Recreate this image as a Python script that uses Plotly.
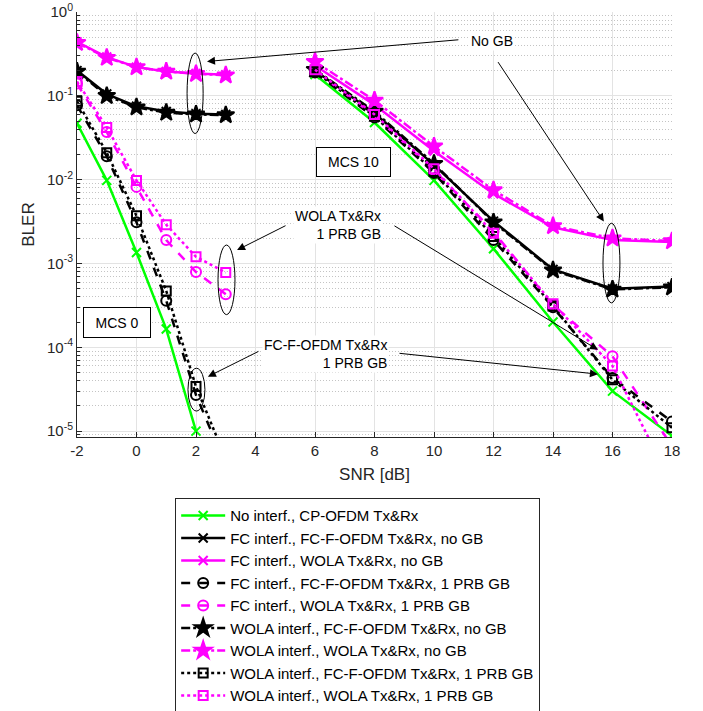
import plotly.graph_objects as go

# ---------------- data ----------------
snr_mcs0 = [-2, -1, 0, 1, 2, 3]
snr_mcs10 = [6, 8, 10, 12, 14, 16, 18]
x_ticks = [-2, 0, 2, 4, 6, 8, 10, 12, 14, 16, 18]
x_ticklabels = ["-2", "0", "2", "4", "6", "8", "10", "12", "14", "16", "18"]
y_ticks = [1e-5, 1e-4, 1e-3, 1e-2, 1e-1, 1]
y_ticklabels = ["10<sup>-5</sup>", "10<sup>-4</sup>", "10<sup>-3</sup>",
                "10<sup>-2</sup>", "10<sup>-1</sup>", "10<sup>0</sup>"]

names = [
    "No interf., CP-OFDM Tx&Rx",
    "FC interf., FC-F-OFDM Tx&Rx, no GB",
    "FC interf., WOLA Tx&Rx, no GB",
    "FC interf., FC-F-OFDM Tx&Rx, 1 PRB GB",
    "FC interf., WOLA Tx&Rx, 1 PRB GB",
    "WOLA interf., FC-F-OFDM Tx&Rx, no GB",
    "WOLA interf., WOLA Tx&Rx, no GB",
    "WOLA interf., FC-F-OFDM Tx&Rx, 1 PRB GB",
    "WOLA interf., WOLA Tx&Rx, 1 PRB GB",
]

# MCS 0 BLER values (per series)
bler_mcs0_noint = [0.047, 0.0098, 0.00135, 0.000165, 1.0e-5, None]
bler_mcs0_fc_fc_nogb = [0.20, 0.105, 0.075, 0.065, 0.061, 0.060]
bler_mcs0_fc_wola_nogb = [0.44, 0.29, 0.22, 0.195, 0.185, 0.178]
bler_mcs0_fc_fc_gb = [0.077, 0.019, 0.0031, 0.00036, 2.7e-5, 3.9e-6]
bler_mcs0_fc_wola_gb = [0.14, 0.037, 0.0082, 0.0019, 0.00079, 0.00043]
bler_mcs0_wola_fc_nogb = [0.195, 0.100, 0.073, 0.063, 0.060, 0.059]
bler_mcs0_wola_wola_nogb = [0.43, 0.285, 0.22, 0.195, 0.183, 0.176]
bler_mcs0_wola_fc_gb = [0.086, 0.021, 0.0037, 0.00047, 3.4e-5, 4.7e-6]
bler_mcs0_wola_wola_gb = [0.148, 0.042, 0.0098, 0.0029, 0.0012, 0.00078]

# MCS 10 BLER values (per series)
bler_mcs10_noint = [0.18, 0.048, 0.0098, 0.0015, 0.00020, 3.0e-5, 8.8e-6]
bler_mcs10_fc_fc_nogb = [0.20, 0.062, 0.015, 0.0032, 0.00085, 0.00050, 0.00053]
bler_mcs10_fc_wola_nogb = [0.23, 0.078, 0.022, 0.0068, 0.0027, 0.0019, 0.0018]
bler_mcs10_fc_fc_gb = [0.19, 0.055, 0.012, 0.0019, 0.00030, 4.3e-5, 1.3e-5]
bler_mcs10_fc_wola_gb = [0.20, 0.058, 0.013, 0.0024, 0.00032, 7.8e-5, 6.6e-6]
bler_mcs10_wola_fc_nogb = [0.205, 0.065, 0.0155, 0.0031, 0.00083, 0.00049, 0.00052]
bler_mcs10_wola_wola_nogb = [0.255, 0.088, 0.025, 0.0075, 0.0028, 0.0020, 0.00185]
bler_mcs10_wola_fc_gb = [0.195, 0.057, 0.0125, 0.0021, 0.00031, 4.1e-5, 1.1e-5]
bler_mcs10_wola_wola_gb = [0.205, 0.060, 0.0135, 0.0023, 0.00033, 6.0e-5, 2.3e-6]

series_mcs0 = [bler_mcs0_noint, bler_mcs0_fc_fc_nogb, bler_mcs0_fc_wola_nogb,
               bler_mcs0_fc_fc_gb, bler_mcs0_fc_wola_gb, bler_mcs0_wola_fc_nogb,
               bler_mcs0_wola_wola_nogb, bler_mcs0_wola_fc_gb, bler_mcs0_wola_wola_gb]
series_mcs10 = [bler_mcs10_noint, bler_mcs10_fc_fc_nogb, bler_mcs10_fc_wola_nogb,
                bler_mcs10_fc_fc_gb, bler_mcs10_fc_wola_gb, bler_mcs10_wola_fc_nogb,
                bler_mcs10_wola_wola_nogb, bler_mcs10_wola_fc_gb, bler_mcs10_wola_wola_gb]

# ---------------- styles ----------------
GREEN = "#00ff00"
BLACK = "#000000"
MAG = "#ff00ff"
styles = [
    dict(color=GREEN, dash="solid", symbol="x-thin-open", size=9),
    dict(color=BLACK, dash="solid", symbol="x-thin-open", size=9),
    dict(color=MAG, dash="solid", symbol="x-thin-open", size=9),
    dict(color=BLACK, dash="dash", symbol="circle-open", size=10),
    dict(color=MAG, dash="dash", symbol="circle-open", size=10),
    dict(color=BLACK, dash="dashdot", symbol="star", size=13),
    dict(color=MAG, dash="dashdot", symbol="star", size=13),
    dict(color=BLACK, dash="dot", symbol="square-open", size=9),
    dict(color=MAG, dash="dot", symbol="square-open", size=9),
]

FONT = "Liberation Sans, Arial, sans-serif"
fig = go.Figure()
for i, (nm, s0, s10, st) in enumerate(zip(names, series_mcs0, series_mcs10, styles)):
    xs = list(snr_mcs0) + [None] + list(snr_mcs10)
    ys = list(s0) + [None] + list(s10)
    fig.add_trace(go.Scatter(
        x=xs, y=ys, name=nm, mode="lines+markers",
        line=dict(color=st["color"], dash=st["dash"], width=2.5),
        marker=dict(symbol=st["symbol"], size=st["size"], color=st["color"],
                    line=dict(color=st["color"], width=2)),
        connectgaps=False, cliponaxis=True,
    ))

# ---------------- annotations ----------------
ann_font = dict(family=FONT, size=14, color="black")
annotations = []
annotations.append(dict(x=11.95, y=-0.35, xref="x", yref="y", text="No GB", showarrow=False,
                        font=ann_font, bgcolor="white"))
annotations.append(dict(x=6.76, y=-2.54, xref="x", yref="y", text="WOLA Tx&Rx<br>1 PRB GB",
                        showarrow=False, font=ann_font, align="right", bgcolor="white"))
annotations.append(dict(x=6.35, y=-4.08, xref="x", yref="y", text="FC-F-OFDM Tx&Rx<br>1 PRB GB",
                        showarrow=False, font=ann_font, align="right", bgcolor="white"))
annotations.append(dict(x=-0.67, y=-3.70, xref="x", yref="y", text="MCS 0", showarrow=False,
                        font=ann_font, bgcolor="white", bordercolor="black", borderwidth=1,
                        width=62, height=25, borderpad=2))
annotations.append(dict(x=7.28, y=-1.79, xref="x", yref="y", text="MCS 10", showarrow=False,
                        font=ann_font, bgcolor="white", bordercolor="black", borderwidth=1,
                        width=69, height=24, borderpad=2))
# arrows: (head_x, head_y, tail_x, tail_y) in data coords (y in log10)
arrows = [
    (2.37, -0.59, 10.87, -0.33),
    (15.71, -2.50, 12.12, -0.58),
    (3.38, -2.84, 5.06, -2.54),
    (15.51, -4.03, 8.62, -2.54),
    (2.40, -4.35, 4.15, -4.04),
    (15.51, -4.32, 8.79, -4.07),
]
for hx, hy, tx, ty in arrows:
    annotations.append(dict(x=hx, y=hy, ax=tx, ay=ty, xref="x", yref="y", axref="x", ayref="y",
                            text="", showarrow=True, arrowhead=2, arrowsize=1.6, arrowwidth=1,
                            arrowcolor="black", standoff=0, startstandoff=0))

# ellipses in axis-domain fractions (x range -2..18, log y range -5.07..0)
XMIN, XMAX, YMIN, YMAX = -2.0, 18.0, -5.07, 0.0


def xd(v):
    return (v - XMIN) / (XMAX - XMIN)


def yd(v):
    return (v - YMIN) / (YMAX - YMIN)


ellipses = [
    (1.70, 2.24, -0.49, -1.45),
    (15.68, 16.25, -2.52, -3.47),
    (2.74, 3.31, -2.78, -3.61),
    (1.73, 2.30, -4.25, -4.76),
]
shapes = []
for x0, x1, y0, y1 in ellipses:
    shapes.append(dict(type="circle", xref="x domain", yref="y domain",
                       x0=xd(x0), x1=xd(x1), y0=yd(y1), y1=yd(y0),
                       line=dict(color="black", width=1), layer="above"))

minor_y = [m * 10.0 ** k for k in range(-6, 0) for m in range(2, 10)]

fig.update_layout(
    width=703, height=711,
    margin=dict(l=77, r=31, t=12, b=274, autoexpand=False),
    paper_bgcolor="white", plot_bgcolor="white",
    font=dict(family=FONT, size=14, color="#262626"),
    showlegend=True,
    legend=dict(x=0.165, y=-0.144, xanchor="left", yanchor="top",
                bordercolor="#262626", borderwidth=1, bgcolor="white",
                font=dict(family=FONT, size=15, color="black"),
                itemwidth=44, tracegroupgap=0),
    annotations=annotations,
    shapes=shapes,
    xaxis=dict(range=[XMIN, XMAX], tickvals=x_ticks, ticktext=x_ticklabels,
               showline=True, linecolor="#262626", linewidth=1,
               ticks="inside", ticklen=5, tickcolor="#262626",
               showgrid=True, gridcolor="#e3e3e3", gridwidth=1, zeroline=False,
               tickfont=dict(size=15, color="#262626"),
               title=dict(text="SNR [dB]", font=dict(size=17, color="#262626"), standoff=10)),
    yaxis=dict(type="log", range=[YMIN, YMAX],
               tickvals=y_ticks, ticktext=y_ticklabels,
               showline=True, linecolor="#262626", linewidth=1,
               ticks="inside", ticklen=5, tickcolor="#262626",
               showgrid=True, gridcolor="#e3e3e3", gridwidth=1, zeroline=False,
               minor=dict(tickvals=minor_y, showgrid=True, griddash="1px,2px",
                          gridcolor="#c4c4c4", ticks="inside", ticklen=3, tickcolor="#262626"),
               tickfont=dict(size=15, color="#262626"),
               title=dict(text="BLER", font=dict(size=17, color="#262626"), standoff=8)),
)

fig.write_html("out.html")
